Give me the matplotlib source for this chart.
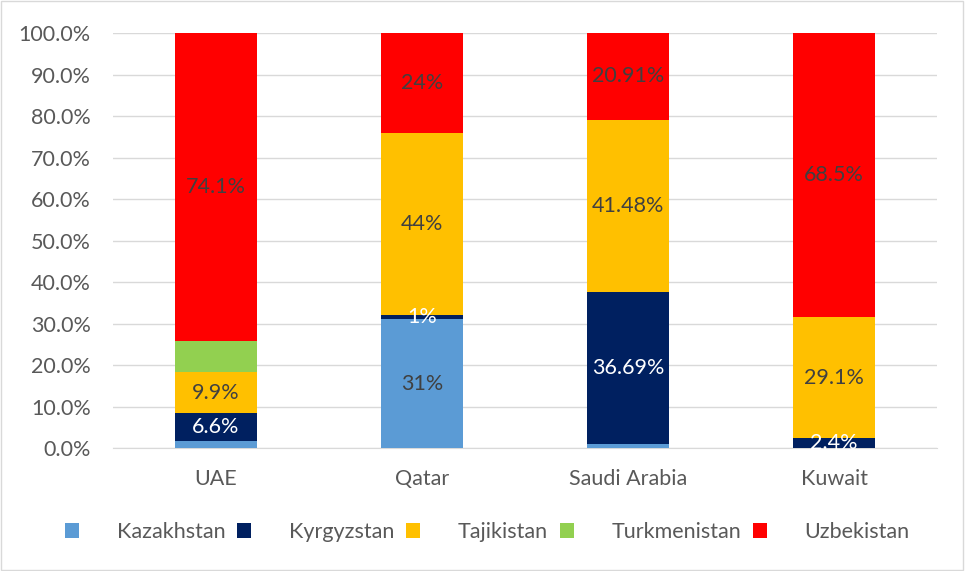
import matplotlib.pyplot as plt
import numpy as np

countries = ['UAE', 'Qatar', 'Saudi Arabia', 'Kuwait']
series = ['Kazakhstan', 'Kyrgyzstan', 'Tajikistan', 'Turkmenistan', 'Uzbekistan']

kazakhstan = [1.8, 31.0, 0.92, 0.0]
kyrgyzstan = [6.6, 1.0, 36.69, 2.4]
tajikistan = [9.9, 44.0, 41.48, 29.1]
turkmenistan = [7.6, 0.0, 0.0, 0.0]
uzbekistan = [74.1, 24.0, 20.91, 68.5]

# labels as shown on the chart ('' = no label)
kazakhstan_lbl = ['', '31%', '', '']
kyrgyzstan_lbl = ['6.6%', '1%', '36.69%', '2.4%']
tajikistan_lbl = ['9.9%', '44%', '41.48%', '29.1%']
turkmenistan_lbl = ['', '', '', '']
uzbekistan_lbl = ['74.1%', '24%', '20.91%', '68.5%']

colors = ['#5B9BD5', '#002060', '#FFC000', '#92D050', '#FF0000']
label_colors = ['#404040', 'white', '#404040', '#404040', '#404040']

values = [kazakhstan, kyrgyzstan, tajikistan, turkmenistan, uzbekistan]
labels = [kazakhstan_lbl, kyrgyzstan_lbl, tajikistan_lbl, turkmenistan_lbl, uzbekistan_lbl]

plt.rcParams['font.family'] = ['Lato', 'DejaVu Sans']
fs = 15.5

fig = plt.figure(figsize=(9.65, 5.71), dpi=100)
ax = fig.add_axes([0.117, 0.2154, 0.854, 0.7268])

x = np.arange(len(countries))
bottom = np.zeros(len(countries))
for name, vals, lbls, c, lc in zip(series, values, labels, colors, label_colors):
    vals = np.array(vals)
    ax.bar(x, vals, 0.4, bottom=bottom, color=c, label=name, zorder=3)
    for xi, b, v, t in zip(x, bottom, vals, lbls):
        if t:
            ax.text(xi, b + v / 2, t, ha='center', va='center', color=lc,
                    fontsize=fs, zorder=4)
    bottom += vals

ax.set_xlim(-0.5, len(countries) - 0.5)
ax.set_ylim(0, 100)
ax.set_yticks(np.arange(0, 101, 10))
ax.set_yticklabels(['%.1f%%' % v for v in np.arange(0, 101, 10)])
ax.set_xticks(x)
ax.set_xticklabels(countries)
ax.tick_params(axis='both', colors='#595959', labelsize=fs, length=0)
ax.tick_params(axis='y', pad=16)
ax.tick_params(axis='x', pad=15)
ax.grid(axis='y', color='#D9D9D9', lw=1, zorder=0)
for s in ['top', 'right', 'left']:
    ax.spines[s].set_visible(False)
ax.spines['bottom'].set_color('#D9D9D9')

leg = fig.legend(loc='center', bbox_to_anchor=(0.505, 0.068), ncol=5, frameon=False,
                 fontsize=fs, handlelength=0.65, handleheight=0.65,
                 handletextpad=1.75, columnspacing=0.55, labelcolor='#595959')

fig.patches.append(plt.Rectangle((0.001, 0.002), 0.997, 0.996, transform=fig.transFigure,
                                 fill=False, edgecolor='#D9D9D9', lw=1))

fig.savefig('out.png', dpi=100)
